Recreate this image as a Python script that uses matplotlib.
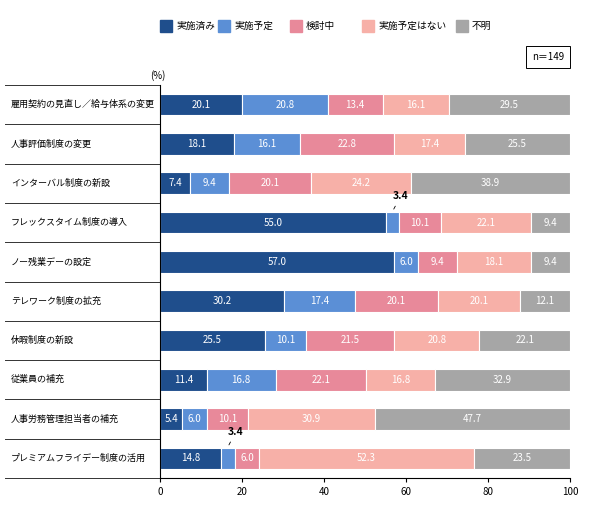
import matplotlib
matplotlib.use("Agg")
import matplotlib.pyplot as plt
from matplotlib.patches import Rectangle
plt.rcParams['font.family'] = ['Noto Sans CJK JP', 'DejaVu Sans']

categories = ["雇用契約の見直し／給与体系の変更", "人事評価制度の変更", "インターバル制度の新設",
              "フレックスタイム制度の導入", "ノー残業デーの設定", "テレワーク制度の拡充",
              "休暇制度の新設", "従業員の補充", "人事労務管理担当者の補充", "プレミアムフライデー制度の活用"]
series_names = ["実施済み", "実施予定", "検討中", "実施予定はない", "不明"]
values = [
    [20.1, 20.8, 13.4, 16.1, 29.5],
    [18.1, 16.1, 22.8, 17.4, 25.5],
    [7.4, 9.4, 20.1, 24.2, 38.9],
    [55.0, 3.4, 10.1, 22.1, 9.4],
    [57.0, 6.0, 9.4, 18.1, 9.4],
    [30.2, 17.4, 20.1, 20.1, 12.1],
    [25.5, 10.1, 21.5, 20.8, 22.1],
    [11.4, 16.8, 22.1, 16.8, 32.9],
    [5.4, 6.0, 10.1, 30.9, 47.7],
    [14.8, 3.4, 6.0, 52.3, 23.5],
]
colors = ["#1f4e8c", "#5b8fd6", "#e8899a", "#f7b0a8", "#a6a6a6"]

fig = plt.figure(figsize=(5.9, 5.32), dpi=100)
ax = fig.add_axes([160/590, 1-478/532, 410/590, (478-85)/532])
n = len(categories)
for i, row in enumerate(values):
    left = 0
    for j, v in enumerate(row):
        ax.barh(i, v, left=left, height=0.55, color=colors[j], edgecolor="white", linewidth=0.8)
        cx = left + v/2
        if v < 4:
            ax.annotate(f"{v:.1f}", xy=(cx, i-0.28), xytext=(cx+2, i-0.55),
                        ha="center", va="bottom", fontsize=7.5, fontweight="bold",
                        arrowprops=dict(arrowstyle="-", lw=0.6, color="black"))
        else:
            ax.text(cx, i, f"{v:.1f}", ha="center", va="center", color="white", fontsize=7)
        left += v
ax.set_ylim(n-0.5, -0.5)
ax.set_xlim(0, 100)
ax.set_xticks([0, 20, 40, 60, 80, 100])
ax.tick_params(axis='x', labelsize=7, length=3)
ax.set_yticks([])
for s in ["top", "right"]:
    ax.spines[s].set_visible(False)
ax.spines["left"].set_linewidth(0.8)
ax.spines["bottom"].set_linewidth(0.8)

x0 = -(160-5)/410*100
for i in range(n+1):
    ax.plot([x0, 0], [i-0.5, i-0.5], color="#333333", lw=0.7, clip_on=False)
for i, c in enumerate(categories):
    ax.text(x0 + 1.5, i, c, ha="left", va="center", fontsize=6.5)
ax.text(-2.5, -0.75, "(%)", ha="left", va="center", fontsize=7)

lx = [160, 218, 290, 362, 456]
for j, name in enumerate(series_names):
    fig.patches.append(Rectangle((lx[j]/590, 1-32/532), 12/590, 12/532, transform=fig.transFigure,
                                 color=colors[j]))
    fig.text((lx[j]+16)/590, 1-26/532, name, fontsize=7, va="center")
fig.text(548/590, 1-57/532, "n＝149", fontsize=7, ha="center", va="center",
         bbox=dict(boxstyle="square,pad=0.6", fc="white", ec="black", lw=0.7))
fig.savefig("out.png", dpi=100)
